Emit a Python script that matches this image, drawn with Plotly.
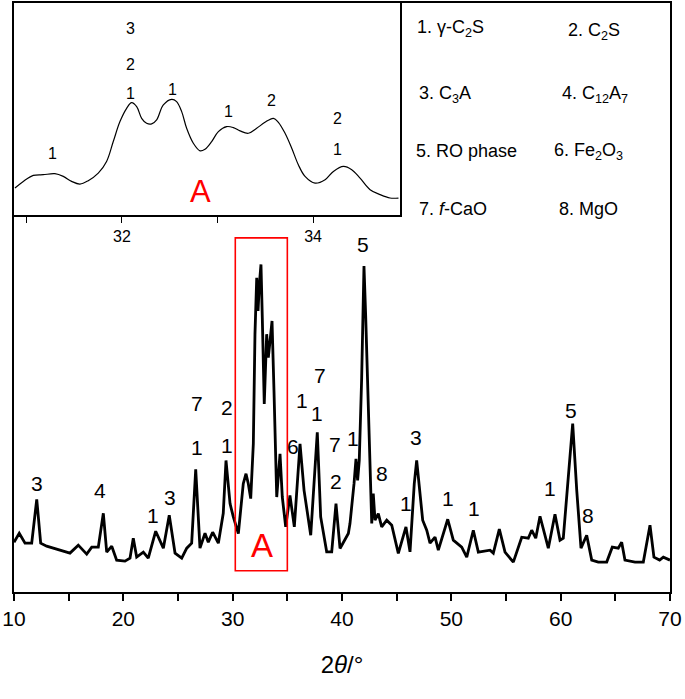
import plotly.graph_objects as go

# ---------------- main XRD pattern ----------------
two_theta = [10.0, 10.48, 11.01, 11.62, 12.08, 12.44, 12.99, 14.21, 15.12, 15.88, 16.65, 17.11, 17.71,
             18.17, 18.48, 18.94, 19.39, 20.15, 20.61, 20.91, 21.22, 21.83, 22.28, 22.96, 23.66, 24.20,
             24.73, 25.34, 25.80, 26.25, 26.62, 27.01, 27.47, 27.77, 28.17, 28.69, 29.14, 29.39,
             29.76, 30.06, 30.52, 30.97, 31.22, 31.43, 31.65, 31.89, 32.04, 32.20, 32.32, 32.44, 32.59,
             32.71, 32.89, 33.11, 33.26, 33.42, 33.60, 33.78, 34.03, 34.33, 34.54, 34.85, 35.24, 35.64,
             36.16, 36.53, 37.14, 37.74, 38.05, 38.60, 39.06, 39.45, 39.82, 40.58, 40.73, 41.10, 41.28,
             41.43, 41.58, 41.80, 42.01, 42.17, 42.41, 42.63, 42.72, 42.86, 43.02, 43.32, 43.63, 44.09,
             44.55, 45.15, 45.85, 46.22, 46.61, 46.83, 47.04, 47.38, 47.75,
             48.05, 48.51, 48.81, 49.67, 50.18, 50.95, 51.41, 52.01, 52.47, 53.54, 53.84, 54.39, 54.91,
             55.67, 56.44, 57.04, 57.35, 57.72, 58.11, 58.87, 59.48, 59.94, 60.24, 61.10, 61.47, 61.86,
             62.38, 62.84, 63.44, 64.21, 64.72, 65.27, 65.58, 65.88, 66.80, 67.56, 68.17, 68.53, 69.05,
             69.39, 70.0]
intensity = [50, 59, 49, 49, 93, 49, 46, 42, 39, 47, 38, 45, 45,
             79, 40, 46, 32, 31, 34, 54, 35, 40, 34, 61, 44, 77,
             39, 34, 44, 49, 123, 44, 59, 50, 60, 49, 79, 132,
             88.7, 75.3, 58.7, 108.7, 118.7, 108.7, 93.7, 148.7, 258.7, 315.3, 282, 308.7, 328.7,
             275.3, 188.7, 258.7, 235.3, 252, 272, 202, 95.3, 138.7, 95.3, 65.3, 97, 65.3,
             148.7, 102, 57, 160.3, 75.3, 40.3, 40.3, 88.7, 43.7, 58.7, 68.7, 108.7, 133.7,
             112, 132, 215.3, 327, 275.3, 175.3, 95.3, 68.7, 98.7, 72, 78.7, 65.3, 72,
             67, 38.7, 65.3, 40.3, 108.7, 132, 108.7, 72, 62,
             49, 55, 42, 73, 52, 45, 35, 62, 40, 42, 39, 63, 40,
             30, 55, 54, 62, 54, 76, 44, 78, 52, 54, 169, 102, 44,
             57, 32, 30, 30, 45, 44, 50, 32, 30, 30, 67, 35, 32,
             35, 32]

# phase labels on main pattern
label_x = [12.08, 17.87, 22.69, 24.27, 26.71, 26.71, 29.45, 29.45, 35.55, 36.31, 37.99, 37.69,
           39.36, 39.45, 40.98, 43.63, 45.85, 46.77, 49.72, 52.07, 41.95, 60.95, 59.03, 62.53]
label_y = [108.7, 102, 77, 95.3, 188.7, 145.3, 185.3, 147, 146, 192, 217, 178.7,
           148, 110.5, 153.7, 119.3, 88.7, 155.3, 93.7, 83.7, 348.7, 182, 103.7, 77]
label_txt = ["3", "4", "1", "3", "7", "1", "2", "1", "6", "1", "7", "1",
             "7", "2", "1", "8", "1", "3", "1", "1", "5", "5", "1", "8"]

# zoomed region A
region_x = [30.24, 35.0]
region_y = [21.3, 355.3]
region_label_pos = [32.65, 47]

# ---------------- inset (region A) ----------------
inset_theta = [30.880, 30.967, 31.072, 31.176, 31.298, 31.386, 31.473, 31.560, 31.647, 31.752,
               31.839, 31.909, 31.979, 32.049, 32.101, 32.154, 32.206, 32.258, 32.311, 32.363,
               32.433, 32.520, 32.572, 32.625, 32.677, 32.747, 32.817, 32.869, 32.939, 33.009,
               33.096, 33.166, 33.236, 33.323, 33.410, 33.497, 33.585, 33.637, 33.707, 33.777,
               33.846, 33.916, 34.021, 34.126, 34.213, 34.318, 34.405, 34.492, 34.597, 34.702,
               34.806, 34.894]
inset_int = [27.3, 34, 40, 40.7, 41.7, 39, 34, 31.3, 34.7, 42.3,
             54, 74, 94, 107.3, 113, 109, 97.3, 92.3, 91.7, 95.7,
             110.7, 116.3, 114, 104, 87.3, 72.3, 64.7, 66.3, 74, 84,
             89, 88, 84.7, 82.3, 87.3, 93.3, 97.3, 93.3, 82.3, 67.3,
             50.7, 39, 32.3, 35.7, 44, 49, 45.7, 37.3, 25.7, 20.7,
             17.3, 17.3]
inset_lab_x = [31.27, 32.09, 32.09, 32.09, 32.53, 33.12, 33.56, 34.26, 34.26]
inset_lab_y = [62, 187, 151.5, 122.3, 126.7, 104, 115, 97.3, 65.7]
inset_lab_txt = ["1", "3", "2", "1", "1", "1", "2", "2", "1"]
inset_A_pos = [32.82, 24]
inset_ticks = [31, 32, 33, 34]
inset_ticktext = ["", "32", "", "34"]

# ---------------- phase key ----------------
key_text = ["1. γ-C<sub>2</sub>S", "2. C<sub>2</sub>S", "3. C<sub>3</sub>A", "4. C<sub>12</sub>A<sub>7</sub>",
            "5. RO phase", "6. Fe<sub>2</sub>O<sub>3</sub>", "7. <i>f</i>-CaO", "8. MgO"]
key_x = [0.6113, 0.8415, 0.6143, 0.8323, 0.6098, 0.8201, 0.6143, 0.8277]
key_y = [0.956, 0.951, 0.8443, 0.8443, 0.7479, 0.7479, 0.6497, 0.6497]

FONT = "Liberation Sans, Arial, Helvetica, sans-serif"

fig = go.Figure()
fig.add_trace(go.Scatter(x=two_theta, y=intensity, mode="lines",
                         line=dict(color="black", width=2.8), xaxis="x", yaxis="y",
                         showlegend=False, hoverinfo="skip"))
fig.add_trace(go.Scatter(x=inset_theta, y=inset_int, mode="lines",
                         line=dict(color="black", width=1.2, shape="spline", smoothing=1.0),
                         xaxis="x2", yaxis="y2", showlegend=False, hoverinfo="skip"))

ann = []
for x, y, t in zip(label_x, label_y, label_txt):
    ann.append(dict(x=x, y=y, xref="x", yref="y", text=t, showarrow=False,
                    font=dict(family=FONT, size=21, color="black")))
ann.append(dict(x=region_label_pos[0], y=region_label_pos[1], xref="x", yref="y", text="A",
                showarrow=False, font=dict(family=FONT, size=33, color="red")))
for x, y, t in zip(inset_lab_x, inset_lab_y, inset_lab_txt):
    ann.append(dict(x=x, y=y, xref="x2", yref="y2", text=t, showarrow=False,
                    font=dict(family=FONT, size=16, color="black")))
ann.append(dict(x=inset_A_pos[0], y=inset_A_pos[1], xref="x2", yref="y2", text="A",
                showarrow=False, font=dict(family=FONT, size=31, color="red")))
for x, y, t in zip(key_x, key_y, key_text):
    ann.append(dict(x=x, y=y, xref="paper", yref="paper", text=t, showarrow=False,
                    xanchor="left", yanchor="middle",
                    font=dict(family=FONT, size=18, color="black")))

fig.update_layout(
    width=685, height=699,
    margin=dict(l=14, r=15, t=1, b=107),
    paper_bgcolor="white", plot_bgcolor="white",
    font=dict(family=FONT, color="black"),
    xaxis=dict(range=[10, 70], domain=[0, 1], anchor="y",
               tickvals=[10, 20, 30, 40, 50, 60, 70], ticks="outside", ticklen=7, tickwidth=2,
               tickcolor="black", showline=True, linecolor="black", linewidth=2, mirror=True,
               showgrid=False, zeroline=False,
               minor=dict(dtick=5, tick0=10, ticks="outside", ticklen=7, tickwidth=2, tickcolor="black"),
               tickfont=dict(family=FONT, size=21, color="black"),
               title=dict(text="2<i>θ</i>/°", font=dict(family=FONT, size=24, color="black"), standoff=27)),
    yaxis=dict(range=[0, 591], domain=[0, 1], anchor="x", showticklabels=False, ticks="",
               showline=True, linecolor="black", linewidth=2, mirror=True,
               showgrid=False, zeroline=False),
    xaxis2=dict(range=[30.87, 34.91], domain=[0, 0.5884], anchor="y2",
                tickvals=inset_ticks, ticktext=inset_ticktext, ticks="outside", ticklen=6,
                tickwidth=1.2, tickcolor="black", showline=True, linecolor="black", linewidth=1.5,
                mirror=True, showgrid=False, zeroline=False,
                tickfont=dict(family=FONT, size=16, color="black")),
    yaxis2=dict(range=[0, 213], domain=[0.6396, 1], anchor="x2", showticklabels=False, ticks="",
                showline=True, linecolor="black", linewidth=1.5, mirror=True,
                showgrid=False, zeroline=False),
    annotations=ann,
    shapes=[dict(type="rect", xref="x", yref="y", x0=region_x[0], x1=region_x[1],
                 y0=region_y[0], y1=region_y[1], line=dict(color="red", width=1.6))],
)

fig.write_html("out.html", config={"displayModeBar": False},
               post_script="document.body.style.margin='0';document.body.style.overflow='hidden';")
